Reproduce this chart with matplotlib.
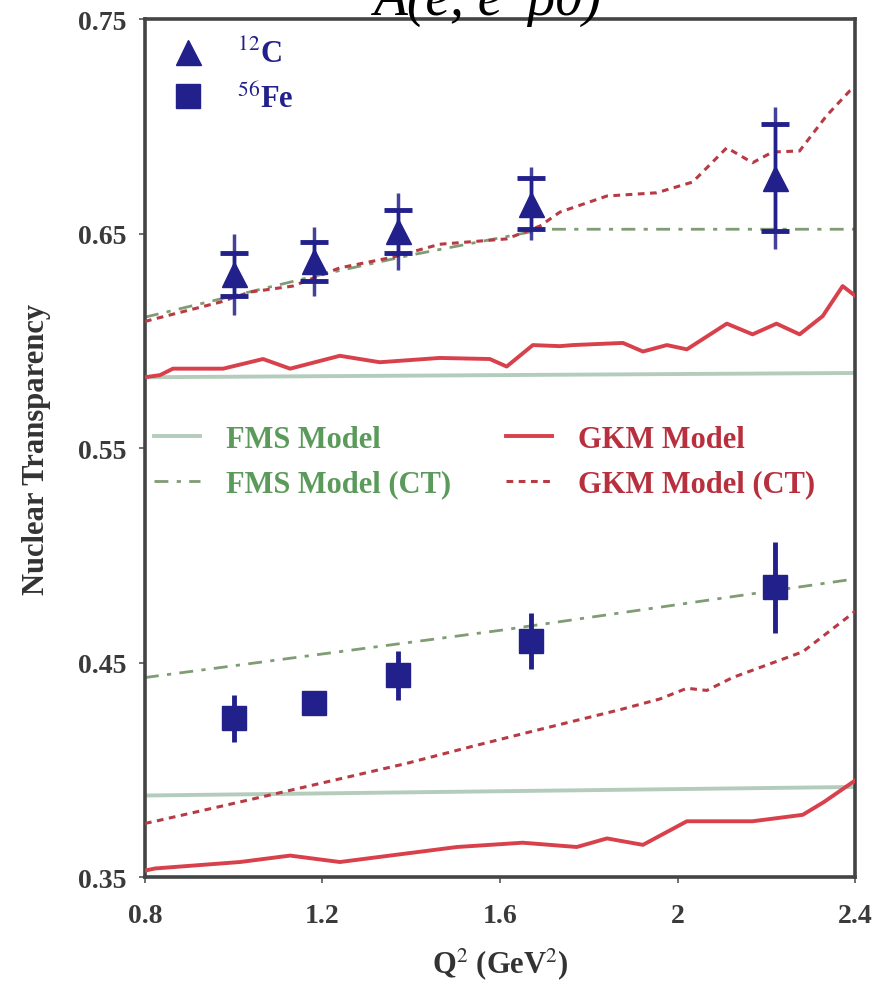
import matplotlib
matplotlib.use("Agg")
import matplotlib.pyplot as plt
from matplotlib.lines import Line2D

plt.rcParams["mathtext.fontset"] = "stix"

# ---------------- data ----------------
q2_points = [1.0, 1.18, 1.37, 1.67, 2.22]
c_T = [0.631, 0.637, 0.651, 0.664, 0.676]
c_err_tot = [0.019, 0.016, 0.018, 0.017, 0.033]
c_err_sys = [0.010, 0.009, 0.010, 0.012, 0.025]
fe_T = [0.424, 0.431, 0.444, 0.460, 0.485]
fe_err = [0.011, 0.004, 0.0115, 0.013, 0.021]

c_fms_x = [0.8, 1.6, 2.4]
c_fms_y = [0.583, 0.584, 0.585]
c_fmsct_x = [0.8, 1.0, 1.2, 1.4, 1.6, 1.7, 2.0, 2.4]
c_fmsct_y = [0.611, 0.621, 0.631, 0.640, 0.648, 0.652, 0.652, 0.652]
c_gkm_x = [0.8, 0.834, 0.863, 0.976, 1.066, 1.127, 1.239, 1.329, 1.464, 1.577, 1.615,
           1.674, 1.735, 1.764, 1.877, 1.922, 1.976, 2.021, 2.111, 2.169, 2.223,
           2.275, 2.327, 2.372, 2.4]
c_gkm_y = [0.583, 0.584, 0.587, 0.587, 0.5915, 0.587, 0.593, 0.590, 0.592, 0.5915, 0.588,
           0.598, 0.5975, 0.598, 0.599, 0.595, 0.598, 0.596, 0.608, 0.603, 0.608,
           0.603, 0.6115, 0.6255, 0.621]
c_gkmct_x = [0.8, 0.818, 0.969, 1.036, 1.133, 1.239, 1.359, 1.464, 1.615, 1.690, 1.735,
             1.841, 1.953, 2.034, 2.111, 2.169, 2.214, 2.275, 2.336, 2.388, 2.4]
c_gkmct_y = [0.609, 0.610, 0.618, 0.6227, 0.6255, 0.634, 0.639, 0.645, 0.6475, 0.6535, 0.660,
             0.6675, 0.669, 0.674, 0.690, 0.683, 0.688, 0.6885, 0.705, 0.7165, 0.718]

fe_fms_x = [0.8, 1.6, 2.4]
fe_fms_y = [0.388, 0.390, 0.392]
fe_fmsct_x = [0.8, 1.2, 1.6, 2.0, 2.4]
fe_fmsct_y = [0.443, 0.454, 0.465, 0.477, 0.489]
fe_gkm_x = [0.8, 0.823, 1.014, 1.127, 1.239, 1.352, 1.503, 1.651, 1.773, 1.841, 1.922,
            2.021, 2.169, 2.282, 2.33, 2.4]
fe_gkm_y = [0.353, 0.354, 0.357, 0.360, 0.357, 0.360, 0.364, 0.366, 0.364, 0.368, 0.365,
            0.376, 0.376, 0.379, 0.385, 0.395]
fe_gkmct_x = [0.8, 0.823, 1.014, 1.223, 1.390, 1.539, 1.674, 1.870, 1.960, 2.021, 2.066,
              2.124, 2.282, 2.395, 2.4]
fe_gkmct_y = [0.375, 0.376, 0.385, 0.395, 0.403, 0.411, 0.418, 0.428, 0.433, 0.438, 0.437,
              0.443, 0.455, 0.473, 0.474]

x_ticks = [0.8, 1.2, 1.6, 2.0, 2.4]
x_ticklabels = ["0.8", "1.2", "1.6", "2", "2.4"]
y_ticks = [0.35, 0.45, 0.55, 0.65, 0.75]
y_ticklabels = ["0.35", "0.45", "0.55", "0.65", "0.75"]

# ---------------- style ----------------
serif = ["Liberation Serif", "DejaVu Serif"]
navy = "#22208a"
red = "#d8404c"
red_dash = "#b83a44"
fms_col = "#b4ccbc"
fmsct_col = "#7f9c74"
dashdot = (0, (5, 3, 1.5, 3))
shortdash = (0, (2.2, 1.8))

fig = plt.figure(figsize=(8.77, 9.87), dpi=100)
ax = fig.add_axes([0.1653, 0.1104, 0.975 - 0.1653, 0.9797 - 0.1104])

# models
ax.plot(c_fms_x, c_fms_y, color=fms_col, lw=2.8, zorder=2)
ax.plot(fe_fms_x, fe_fms_y, color=fms_col, lw=2.8, zorder=2)
ax.plot(c_fmsct_x, c_fmsct_y, color=fmsct_col, lw=2.0, ls=dashdot, zorder=2)
ax.plot(fe_fmsct_x, fe_fmsct_y, color=fmsct_col, lw=2.0, ls=dashdot, zorder=2)
ax.plot(c_gkm_x, c_gkm_y, color=red, lw=2.8, zorder=3)
ax.plot(fe_gkm_x, fe_gkm_y, color=red, lw=2.8, zorder=3)
ax.plot(c_gkmct_x, c_gkmct_y, color=red_dash, lw=2.2, ls=shortdash, zorder=3)
ax.plot(fe_gkmct_x, fe_gkmct_y, color=red_dash, lw=2.2, ls=shortdash, zorder=3)

# data
ax.errorbar(q2_points, c_T, yerr=c_err_tot, fmt="none", ecolor=navy, elinewidth=2.5,
            capsize=0, zorder=5, alpha=0.85)
ax.errorbar(q2_points, c_T, yerr=c_err_sys, fmt="^", color=navy, ms=18, ecolor=navy,
            elinewidth=2.5, capsize=10, capthick=3.5, zorder=6)
ax.errorbar(q2_points, fe_T, yerr=fe_err, fmt="s", color=navy, ms=17, ecolor=navy,
            elinewidth=3.5, capsize=0, zorder=6)

ax.set_xlim(0.8, 2.4)
ax.set_ylim(0.35, 0.75)
ax.set_xticks(x_ticks)
ax.set_xticklabels(x_ticklabels)
ax.set_yticks(y_ticks)
ax.set_yticklabels(y_ticklabels)
for lab in ax.get_xticklabels() + ax.get_yticklabels():
    lab.set_fontfamily(serif)
    lab.set_fontweight("bold")
    lab.set_fontsize(20)
    lab.set_color("#3a3a3a")
ax.tick_params(axis="y", direction="out", length=4, width=1.2, color="#555555", pad=9)
ax.tick_params(axis="x", direction="out", length=4, width=1.2, color="#555555", pad=15)
for s in ax.spines.values():
    s.set_linewidth(2.6)
    s.set_color("#444444")

ax.set_xlabel("Q$^2$ (GeV$^2$)", fontfamily=serif, fontweight="bold", fontsize=22,
              color="#333333", labelpad=12)
ax.set_ylabel("Nuclear Transparency", fontfamily=serif, fontweight="bold", fontsize=22,
              color="#333333", labelpad=20)

# top-left legend (nuclei)
h1 = Line2D([], [], marker="^", color=navy, ls="none", ms=18)
h2 = Line2D([], [], marker="s", color=navy, ls="none", ms=17)
leg1 = ax.legend([h1, h2], ["$^{12}$C", "$^{56}$Fe"], loc="center left",
                 bbox_to_anchor=(0.039, 0.933), frameon=False, borderpad=0,
                 borderaxespad=0, handlelength=1.0, handletextpad=1.1,
                 labelspacing=0.45, prop={"family": serif, "weight": "bold", "size": 22})
for t in leg1.get_texts():
    t.set_color(navy)
ax.add_artist(leg1)

# model legend
hm = [Line2D([], [], color=fms_col, lw=2.8),
      Line2D([], [], color=fmsct_col, lw=2.0, ls=dashdot),
      Line2D([], [], color=red, lw=2.8),
      Line2D([], [], color=red_dash, lw=2.2, ls=shortdash)]
lm = ["FMS Model", "FMS Model (CT)", "GKM Model", "GKM Model (CT)"]
leg2 = ax.legend(hm, lm, loc="center left", bbox_to_anchor=(0.0127, 0.484), ncol=2,
                 frameon=False, borderpad=0, borderaxespad=0, handlelength=1.5,
                 handletextpad=0.85, columnspacing=1.8, labelspacing=0.5,
                 prop={"family": serif, "weight": "bold", "size": 22})
cols = ["#5a9a5a", "#5a9a5a", "#b8303e", "#b8303e"]
for t, c in zip(leg2.get_texts(), cols):
    t.set_color(c)

# title, mostly cut off at the top as in the reference
fig.text(0.555, 1 - 15 / 987, "A(e, e\u2032 \u03c10)", fontfamily=serif, style="italic",
         fontsize=40, ha="center", va="baseline", color="black")

fig.savefig("out.png", dpi=100)
